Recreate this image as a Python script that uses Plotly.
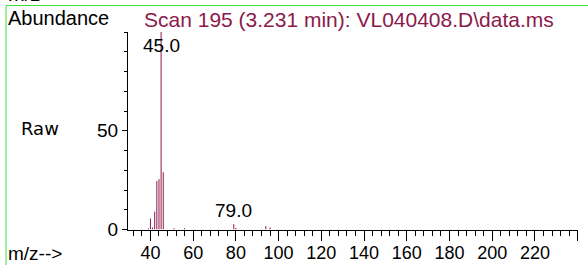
import plotly.graph_objects as go

# ---- data ----
mz = [39, 40, 41, 42, 43, 44, 45, 46, 51, 56, 79, 80, 94, 96]
abundance = [0.6, 5.6, 1.0, 9.0, 24.5, 25.5, 100, 29.0, 0.7, 0.7, 2.7, 0.8, 1.7, 1.0]
labeled_peaks = [45.0, 79.0]
x_tickvals = [40, 60, 80, 100, 120, 140, 160, 180, 200, 220, 240]
x_ticktext = ["40", "60", "80", "100", "120", "140", "160", "180", "200", "220", ""]
y_tickvals = [0, 50]
y_ticktext = ["0", "50"]
title_text = "Scan 195 (3.231 min): VL040408.D\\data.ms"

W, H = 588, 265
def px(x):
    return x / W
def py(y):
    return 1 - y / H

MAROON = "#8b1a4b"
GREEN = "#3ee03e"
FONT = "Liberation Sans, Arial, sans-serif"

# stick spectrum built from the data arrays
xs, ys = [], []
for m, a in zip(mz, abundance):
    xs += [m, m, None]
    ys += [0, a, None]

fig = go.Figure()
fig.add_trace(go.Scatter(x=xs, y=ys, mode="lines",
                         line=dict(color=MAROON, width=1),
                         hoverinfo="skip", showlegend=False))

annotations = []
for p in labeled_peaks:
    h = abundance[mz.index(int(p))]
    if h >= 99:
        annotations.append(dict(x=p, y=93, xref="x", yref="y", text=f"{p:.1f}",
                                showarrow=False, font=dict(family=FONT, size=19, color="black")))
    else:
        annotations.append(dict(x=p, y=h, xref="x", yref="y", text=f"{p:.1f}",
                                showarrow=False, yanchor="middle", yshift=14,
                                font=dict(family=FONT, size=19, color="black")))

annotations += [
    dict(x=px(6), y=py(18), xref="paper", yref="paper", text="Abundance",
         xanchor="left", yanchor="middle", showarrow=False,
         font=dict(family=FONT, size=20, color="black")),
    dict(x=px(142), y=py(20), xref="paper", yref="paper", text=title_text,
         xanchor="left", yanchor="middle", showarrow=False,
         font=dict(family=FONT, size=21, color=MAROON)),
    dict(x=px(40), y=py(128), xref="paper", yref="paper", text="Raw",
         xanchor="center", yanchor="middle", showarrow=False,
         font=dict(family="DejaVu Sans", size=18, color="black")),
    dict(x=px(6), y=py(253), xref="paper", yref="paper", text="m/z-->",
         xanchor="left", yanchor="middle", showarrow=False,
         font=dict(family=FONT, size=19, color="black")),
    dict(x=px(6), y=py(-6), xref="paper", yref="paper", text="m/z-->",
         xanchor="left", yanchor="middle", showarrow=False,
         font=dict(family=FONT, size=20, color="black")),
]

fig.update_layout(
    width=W, height=H,
    margin=dict(l=0, r=0, t=0, b=0, pad=0, autoexpand=False),
    paper_bgcolor="white", plot_bgcolor="white",
    showlegend=False,
    annotations=annotations,
    shapes=[
        dict(type="line", xref="paper", yref="paper", x0=px(6), x1=1, y0=py(5.5), y1=py(5.5),
             line=dict(color=GREEN, width=1)),
        dict(type="line", xref="paper", yref="paper", x0=px(6), x1=px(6), y0=py(5.5), y1=0,
             line=dict(color=GREEN, width=1)),
    ],
    xaxis=dict(
        domain=[px(128), px(577.7)], range=[29.5, 240], automargin=False,
        showgrid=False, zeroline=False,
        showline=True, linecolor="black", linewidth=1,
        tickmode="array", tickvals=x_tickvals, ticktext=x_ticktext,
        ticks="outside", ticklen=10, tickcolor="black", tickwidth=1,
        ticklabelstandoff=-3,
        minor=dict(dtick=4, tick0=0, ticks="outside", ticklen=5, tickcolor="black", showgrid=False),
        tickfont=dict(family=FONT, size=18, color="black"),
        fixedrange=True,
    ),
    yaxis=dict(
        domain=[py(229.5), py(32)], range=[0, 100], automargin=False,
        showgrid=False, zeroline=False,
        showline=True, linecolor="black", linewidth=1,
        tickmode="array", tickvals=y_tickvals, ticktext=y_ticktext,
        ticks="outside", ticklen=5, tickcolor="black", tickwidth=1,
        minor=dict(dtick=10, tick0=0, ticks="outside", ticklen=3, tickcolor="black", showgrid=False),
        tickfont=dict(family=FONT, size=19, color="black"),
        fixedrange=True,
    ),
)

fig.write_html(
    "out.html",
    config={"displayModeBar": False, "staticPlot": True},
    post_script="document.body.style.margin='0px';document.body.style.padding='0px';document.body.style.overflow='hidden';",
)
